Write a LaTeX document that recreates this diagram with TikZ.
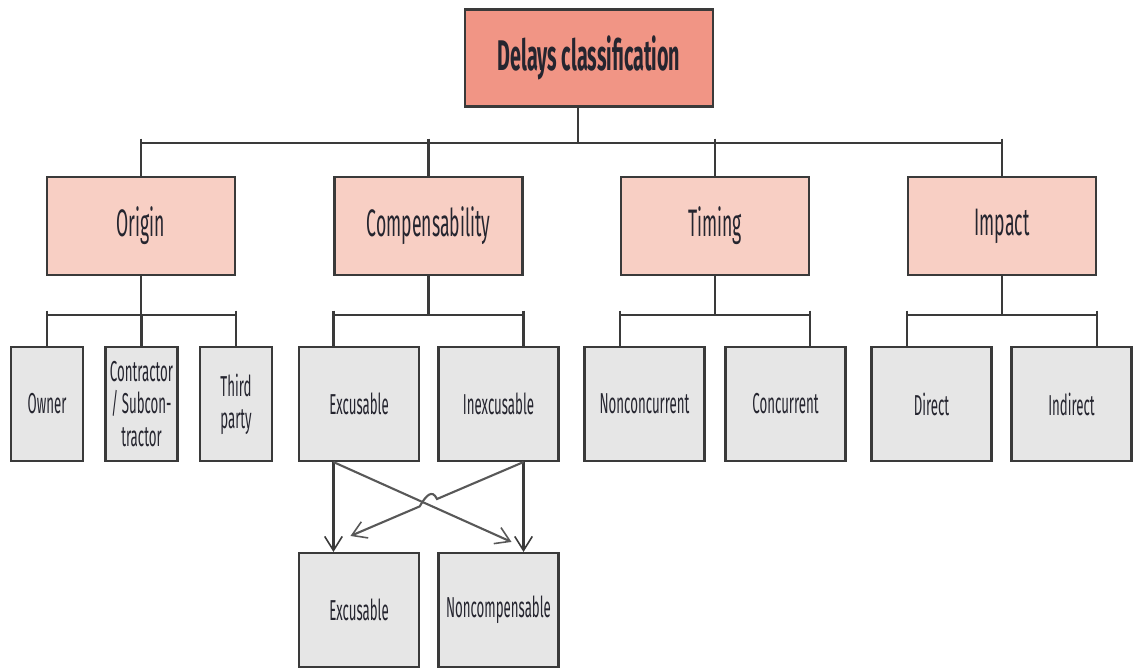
\documentclass[tikz,border=0pt]{standalone}
\usepackage{fontspec}
\setmainfont{Fira Sans}[FakeStretch=0.46]
\usetikzlibrary{arrows.meta,calc}

\definecolor{rootfill}{HTML}{F19585}
\definecolor{groupfill}{HTML}{F8CFC4}
\definecolor{leaffill}{HTML}{E6E6E6}
\definecolor{edgegray}{HTML}{3A3A3A}
\definecolor{textdark}{HTML}{25252F}

\begin{document}
\begin{tikzpicture}[x=0.02cm, y=-0.02cm,
	box/.style={draw=edgegray, line width=1.2pt, align=center, inner sep=1pt, text=textdark},
	rootbox/.style={box, fill=rootfill, minimum width=4.96cm, minimum height=1.94cm, font=\fontsize{24.4}{28}\selectfont\bfseries},
	groupbox/.style={box, fill=groupfill, minimum width=3.76cm, minimum height=1.96cm, font=\fontsize{21.8}{25}\selectfont},
	leafbox/.style={box, fill=leaffill, minimum width=2.4cm, minimum height=2.28cm, font=\fontsize{16.4}{18.4}\selectfont},
	narrowbox/.style={leafbox, minimum width=1.44cm},
	link/.style={draw=edgegray, line width=1.2pt},
	cross/.style={draw=edgegray!85, line width=1.2pt, -{Straight Barb[length=8pt,width=10pt,line width=0.9pt]}},
	down/.style={link, -{Straight Barb[length=8pt,width=10pt,line width=0.9pt]}}]
	\useasboundingbox (0,0) rectangle (1133,667);
	% boxes
	\node[rootbox] (root) at (589,58) {Delays classification};
	\node[groupbox] (origin) at (141,226) {Origin};
	\node[groupbox] (comp) at (428.5,226) {Compensability};
	\node[groupbox] (timing) at (715,226) {Timing};
	\node[groupbox] (impact) at (1002,226) {Impact};
	\node[narrowbox] (owner) at (47,404) {Owner};
	\node[narrowbox] (contr) at (141.5,404) {Contractor\\/ Subcon-\\tractor};
	\node[narrowbox] (third) at (236,404) {Third\\party};
	\node[leafbox] (excus) at (359,404) {Excusable};
	\node[leafbox] (inexc) at (498.5,404) {Inexcusable};
	\node[leafbox] (noncon) at (644.5,404) {Nonconcurrent};
	\node[leafbox] (concur) at (785.5,404) {Concurrent};
	\node[leafbox] (direct) at (931.5,404) {Direct};
	\node[leafbox] (indirect) at (1071.5,404) {Indirect};
	\node[leafbox] (excusB) at (359,610) {Excusable};
	\node[leafbox] (noncomp) at (498.5,610) {Noncompensable};
	% bus lines
	\coordinate (bus1) at (578,143);
	\coordinate (bus2) at (0,315);
	\draw[link] (bus1 |- root.south) -- (bus1);
	\draw[link] (origin.north |- bus1) -- (impact.north |- bus1);
	\draw[link] ([yshift=2.5pt]origin.north |- bus1) -- (origin.north);
	\draw[link] ([yshift=2.5pt]comp.north |- bus1) -- (comp.north);
	\draw[link] ([yshift=2.5pt]timing.north |- bus1) -- (timing.north);
	\draw[link] ([yshift=2.5pt]impact.north |- bus1) -- (impact.north);
	% origin
	\draw[link] (origin.south) -- (origin.south |- bus2);
	\draw[link] (owner.north |- bus2) -- (third.north |- bus2);
	\draw[link] ([yshift=2.5pt]owner.north |- bus2) -- (owner.north);
	\draw[link] (contr.north |- bus2) -- (contr.north);
	\draw[link] ([yshift=2.5pt]third.north |- bus2) -- (third.north);
	% compensability
	\draw[link] (comp.south) -- (comp.south |- bus2);
	\draw[link] (comp.west |- bus2) -- (comp.east |- bus2);
	\draw[link] ([yshift=2.5pt]comp.west |- bus2) -- (comp.west |- excus.north);
	\draw[link] ([yshift=2.5pt]comp.east |- bus2) -- (comp.east |- inexc.north);
	% timing
	\draw[link] (timing.south) -- (timing.south |- bus2);
	\draw[link] (timing.west |- bus2) -- (timing.east |- bus2);
	\draw[link] ([yshift=2.5pt]timing.west |- bus2) -- (timing.west |- noncon.north);
	\draw[link] ([yshift=2.5pt]timing.east |- bus2) -- (timing.east |- concur.north);
	% impact
	\draw[link] (impact.south) -- (impact.south |- bus2);
	\draw[link] (impact.west |- bus2) -- (impact.east |- bus2);
	\draw[link] ([yshift=2.5pt]impact.west |- bus2) -- (impact.west |- direct.north);
	\draw[link] ([yshift=2.5pt]impact.east |- bus2) -- (impact.east |- indirect.north);
	% second split
	\coordinate (exTop) at (comp.west |- excus.south);
	\coordinate (inTop) at (comp.east |- inexc.south);
	\coordinate (exEnd) at ($(noncomp.north -| comp.east)+(-12,-10)$);
	\coordinate (inEnd) at ($(excusB.north -| comp.west)+(17,-16)$);
	\draw[down] (exTop) -- (comp.west |- excusB.north);
	\draw[down] (inTop) -- (comp.east |- noncomp.north);
	\draw[cross] (exTop) -- (exEnd);
	\draw[cross] (inTop) -- ($(inTop)!0.5!(inEnd)$)
		to[out=115,in=60,looseness=1.6] ($(inTop)!0.6!(inEnd)$) -- (inEnd);
\end{tikzpicture}
\end{document}
